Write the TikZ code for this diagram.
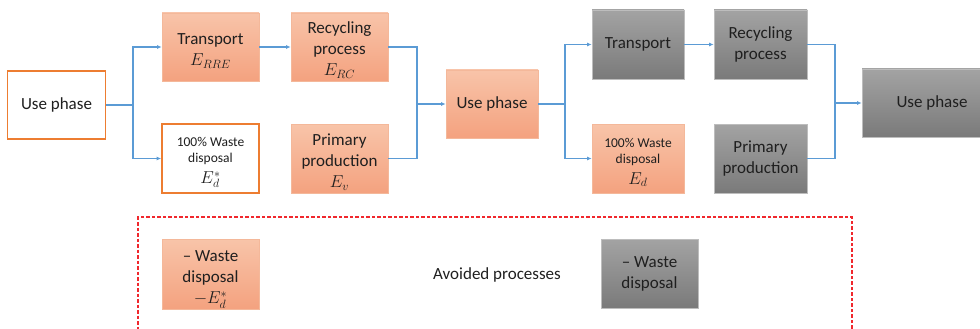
\documentclass[tikz,border=0pt]{standalone}
\usepackage{fontspec}
\setmainfont{Carlito}
\usetikzlibrary{arrows.meta}
\definecolor{oTop}{HTML}{F8C4A9}
\definecolor{oBot}{HTML}{F4A27F}
\definecolor{oLine}{HTML}{F4B89A}
\definecolor{oDark}{HTML}{ED7D31}
\definecolor{gTop}{HTML}{A3A3A3}
\definecolor{gBot}{HTML}{7A7A7A}
\definecolor{gLine}{HTML}{BDBDBD}
\definecolor{bl}{HTML}{5B9BD5}
\definecolor{rd}{HTML}{F0282D}
\newcommand{\smalltxt}{\fontsize{13.5}{17}\selectfont}
\newcommand{\topstrut}[1]{\rule{0pt}{#1}}
\begin{document}
\begin{tikzpicture}[x=1pt,y=-1pt,
 box/.style={minimum width=97pt,minimum height=68pt,inner sep=0pt,align=center,
   font=\fontsize{17}{21}\selectfont,text=black!88},
 obox/.style={box,top color=oTop,bottom color=oBot,draw=oLine,line width=0.6pt},
 wbox/.style={box,fill=white,draw=oDark,line width=1.6pt},
 gbox/.style={box,top color=gTop,bottom color=gBot,draw=gLine,line width=0.6pt},
 conn/.style={draw=bl,line width=1.3pt},
 arr/.style={conn,-{Latex[length=4.5pt,width=4pt]}},
 dashbox/.style={draw=rd,line width=1.3pt,dash pattern=on 3.5pt off 2pt,inner sep=0pt},
]
\useasboundingbox (0,0) rectangle (980,329);
\clip (0,0) rectangle (980,329);

% stage 1
\node[wbox,minimum width=98pt] (up1) at (56.5,105) {Use phase};
\node[obox] (tr1) at (210.5,47) {\topstrut{18.5pt}Transport\\$E_{RRE}$};
\node[wbox,minimum height=69pt] (wd1) at (210.5,158.5) {{\smalltxt\topstrut{17pt}100\% Waste}\\[-5pt]{\smalltxt disposal}\\$E_d^*$};
\node[obox] (rc1) at (339.5,47) {\topstrut{18.5pt}Recycling\\process\\$E_{RC}$};
\node[obox,minimum height=69pt] (pp1) at (339.5,158.5) {\topstrut{18.5pt}Primary\\production\\$E_v$};

% stage 2
\node[obox,minimum width=92pt] (up2) at (492,104) {Use phase};
\node[gbox,minimum width=92pt,minimum height=69pt] (tr2) at (638,44.5) {Transport};
\node[obox,minimum width=92pt,minimum height=69pt] (wd2) at (638,158.5) {{\smalltxt\topstrut{17pt}100\% Waste}\\[-5pt]{\smalltxt disposal}\\$E_d$};
\node[gbox,minimum width=93pt,minimum height=69pt] (rc2) at (760.5,44.5) {Recycling\\process};
\node[gbox,minimum width=93pt,minimum height=69pt] (pp2) at (760.5,158.5) {Primary\\production};

% stage 3
\node[gbox,minimum width=140pt] (up3) at (932,103) {Use phase};

% connectors
\coordinate (j1) at (133,105);
\draw[conn] (up1.east) -- (j1);
\draw[arr] (j1) |- (tr1.west);
\draw[arr] (j1) |- (wd1.west);
\draw[arr] (tr1.east) -- (rc1.west);
\coordinate (j2) at (417,104);
\draw[conn] (rc1.east) -| (j2);
\draw[conn] (pp1.east) -| (j2);
\draw[arr] (j2) -- (up2.west);
\coordinate (j3) at (565,104);
\draw[conn] (up2.east) -- (j3);
\draw[arr] (j3) |- (tr2.west);
\draw[arr] (j3) |- (wd2.west);
\draw[arr] (tr2.east) -- (rc2.west);
\coordinate (j4) at (835,103);
\draw[conn] (rc2.east) -| (j4);
\draw[conn] (pp2.east) -| (j4);
\draw[arr] (j4) -- (up3.west);

% avoided processes
\node[dashbox,minimum width=714pt,minimum height=112.5pt] (avoid) at (495,273.25) {};
\node[obox,minimum height=70pt] (wd3) at (210.5,274) {\topstrut{22pt}-- Waste\\disposal\\$-E_d^*$};
\node[font=\fontsize{17}{21}\selectfont,text=black!88] (avtxt) at (497,275) {Avoided processes};
\node[gbox,minimum height=69pt] (wd4) at (649.5,273.5) {-- Waste\\disposal};
\end{tikzpicture}
\end{document}
